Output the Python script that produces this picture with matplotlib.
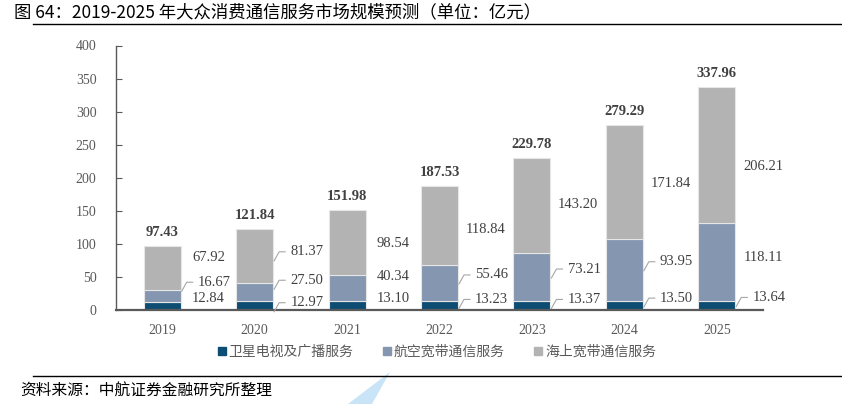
import matplotlib.pyplot as plt
from matplotlib.patches import Polygon
from matplotlib.lines import Line2D
import numpy as np

years = ["2019", "2020", "2021", "2022", "2023", "2024", "2025"]
satellite = [12.84, 12.97, 13.10, 13.23, 13.37, 13.50, 13.64]
aviation = [16.67, 27.50, 40.34, 55.46, 73.21, 93.95, 118.11]
maritime = [67.92, 81.37, 98.54, 118.84, 143.20, 171.84, 206.21]
totals = [97.43, 121.84, 151.98, 187.53, 229.78, 279.29, 337.96]
series_names = ["卫星电视及广播服务", "航空宽带通信服务", "海上宽带通信服务"]
colors = ["#0D4D74", "#8496B0", "#B3B3B3"]

# label layout (y in data units) and whether the label has a leader line
label_y = {
    "sat": [17, 11, 18, 16, 16, 18, 19],
    "av": [42, 45, 50, 53, 62, 73, 80],
    "mar": [79, 88, 101, 121, 159, 192, 217],
}
leaders = {
    "sat": [0, 1, 0, 1, 1, 1, 1],
    "av": [1, 1, 0, 1, 1, 1, 0],
    "mar": [0, 1, 0, 0, 0, 0, 0],
}

W, H = 842, 404
fig = plt.figure(figsize=(W / 100, H / 100), dpi=100)
serif = ["Liberation Serif", "Noto Sans CJK SC"]
cjk = ["Noto Sans CJK SC", "DejaVu Sans"]

ax = fig.add_axes([116 / W, 1 - 310 / H, (763 - 116) / W, (310 - 45.5) / H])
x = np.arange(len(years))
bw = 0.4
bottom = np.zeros(len(years))
for vals, c in zip([satellite, aviation, maritime], colors):
    ax.bar(x, vals, bw, bottom=bottom, color=c, edgecolor="#E6E6E6", linewidth=0.8, zorder=2)
    bottom += np.array(vals)

ax.set_xlim(-0.5, len(years) - 0.5)
ax.set_ylim(0, 400)
ax.set_yticks(np.arange(0, 401, 50))
ax.set_xticks(x)
ax.set_xticklabels(years)
for s in ["top", "right"]:
    ax.spines[s].set_visible(False)
ax.spines["left"].set_color("#595959")
ax.spines["left"].set_linewidth(1.0)
ax.spines["bottom"].set_color("#595959")
ax.spines["bottom"].set_linewidth(1.6)
ax.tick_params(axis="y", direction="in", length=4, color="#595959", labelcolor="#595959", pad=14)
ax.tick_params(axis="x", length=0, labelcolor="#595959", pad=10)
for lab in ax.get_xticklabels() + ax.get_yticklabels():
    lab.set_fontfamily(serif)
    lab.set_fontsize(10)

# pixel -> data conversion for small leader offsets
px_x = 1 / 92.4
px_y = 400 / 264.5
lc = "#A6A6A6"
for key, vals in [("sat", satellite), ("av", aviation), ("mar", maritime)]:
    for i, v in enumerate(vals):
        ly = label_y[key][i]
        if leaders[key][i]:
            edge = x[i] + bw / 2
            ax.plot([edge + 1 * px_x, edge + 6 * px_x, edge + 12 * px_x],
                    [ly - 9 * px_y, ly, ly], color=lc, lw=0.8, zorder=3, clip_on=False)
            tx = x[i] + 0.565
        else:
            tx = x[i] + 0.5
        ax.text(tx, ly, f"{v:.2f}", ha="center", va="center", fontsize=10.5,
                family=serif, color="#404040", zorder=4)

for i, t in enumerate(totals):
    ax.annotate(f"{t:.2f}", (x[i], t), xytext=(0, 5), textcoords="offset points",
                ha="center", va="bottom", fontsize=10.5, fontweight="bold",
                family=serif, color="#404040")

# legend
handles = [Line2D([], [], marker="s", linestyle="none", markersize=5.5, color=c) for c in colors]
leg = fig.legend(handles, series_names, loc="center", bbox_to_anchor=(436 / W, 1 - 352 / H),
                 ncol=3, frameon=False, prop={"family": cjk, "size": 10},
                 handletextpad=0.1, columnspacing=2.0, handlelength=0.8)
for t in leg.get_texts():
    t.set_color("#595959")

# title, rules and source
fig.text(14 / W, 1 - 12 / H, "图 64：2019-2025 年大众消费通信服务市场规模预测（单位：亿元）",
         ha="left", va="center", fontsize=12.5, family=cjk, color="black")
fig.add_artist(Line2D([33 / W, 1], [1 - 24 / H] * 2, color="black", lw=1.0))
fig.add_artist(Line2D([33 / W, 1], [1 - 376 / H] * 2, color="black", lw=1.0))
fig.add_artist(Polygon([[390 / W, 1 - 372 / H], [348 / W, 0], [372 / W, 0]],
                       closed=True, color="#C8E4F6", lw=0, transform=fig.transFigure))
fig.text(20 / W, 1 - 391 / H, "资料来源：中航证券金融研究所整理", ha="left", va="center",
         fontsize=11.3, family=cjk, style="italic", color="black")

fig.savefig("out.png", dpi=100)
